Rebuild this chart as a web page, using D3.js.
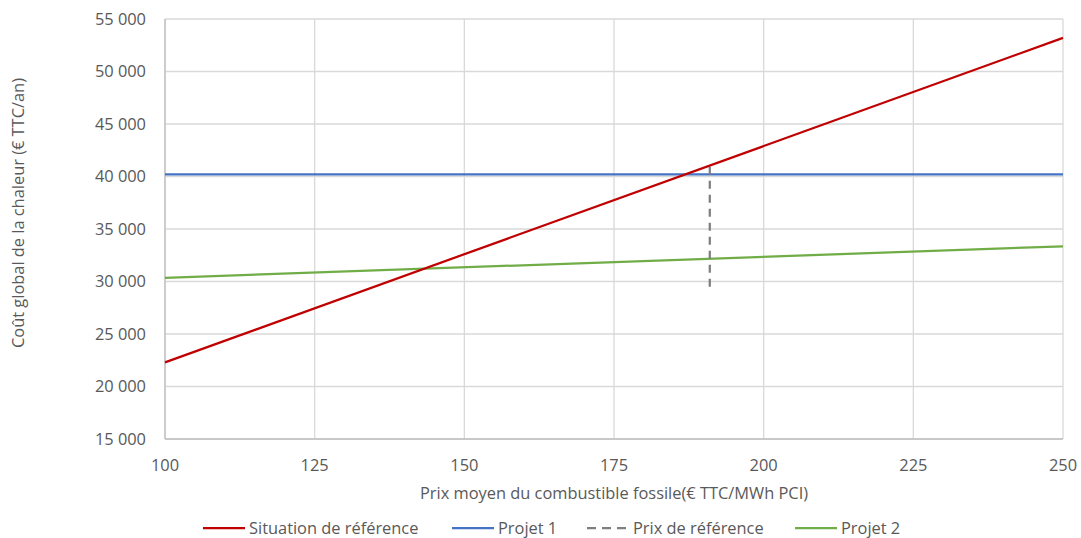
<!DOCTYPE html>
<html><head><meta charset="utf-8">
<script src="https://cdn.jsdelivr.net/npm/d3@7"></script>
<style>
body{margin:0;background:#fff;}
text{font-family:"Open Sans",sans-serif;fill:#595959;}
</style></head>
<body><svg id="c" width="1081" height="538"></svg>
<script>
const xTicks = [100,125,150,175,200,225,250];
const yTicks = [15000,20000,25000,30000,35000,40000,45000,50000,55000];
const prices = [100,250];
const situationRef = [22300,53200];
const projet1 = [40200,40200];
const projet2 = [30350,33350];
const prixRefX = [191,191];
const prixRefY = [29500,41050];
const seriesNames = ["Situation de référence","Projet 1","Prix de référence","Projet 2"];
const colors = ["#C00000","#4472C4","#7F7F7F","#70AD47"];

const svg = d3.select("#c");
const L=165,R=1063,T=19,B=439;
const FS=16.4;
const x = d3.scaleLinear().domain([100,250]).range([L,R]);
const y = d3.scaleLinear().domain([15000,55000]).range([B,T]);

// grid
svg.append("g").selectAll("line").data(yTicks).join("line")
 .attr("x1",L).attr("x2",R).attr("y1",d=>y(d)).attr("y2",d=>y(d))
 .attr("stroke","#d9d9d9").attr("stroke-width",1.3);
svg.append("g").selectAll("line").data(xTicks).join("line")
 .attr("y1",T).attr("y2",B).attr("x1",d=>x(d)).attr("x2",d=>x(d))
 .attr("stroke","#d9d9d9").attr("stroke-width",1.3);
svg.append("line").attr("x1",L).attr("x2",L).attr("y1",T).attr("y2",B).attr("stroke","#bfbfbf").attr("stroke-width",1.3);
svg.append("line").attr("x1",L).attr("x2",R).attr("y1",B).attr("y2",B).attr("stroke","#bfbfbf").attr("stroke-width",1.3);

// tick labels
svg.append("g").selectAll("text").data(yTicks).join("text")
 .attr("x",146).attr("y",d=>y(d)).attr("dy","0.35em").attr("text-anchor","end")
 .attr("font-size",FS).text(d=>d3.format(",")(d).replace(/,/g," "));
svg.append("g").selectAll("text").data(xTicks).join("text")
 .attr("x",d=>x(d)).attr("y",465).attr("dy","0.35em").attr("text-anchor","middle")
 .attr("font-size",FS).text(d=>d);

// titles
svg.append("text").attr("x",614).attr("y",493).attr("dy","0.35em").attr("text-anchor","middle")
 .attr("font-size",FS).text("Prix moyen du combustible fossile(€ TTC/MWh PCI)");
svg.append("text").attr("transform","translate(18,213) rotate(-90)").attr("dy","0.35em").attr("text-anchor","middle")
 .attr("font-size",FS).text("Coût global de la chaleur (€ TTC/an)");

const line = d3.line().x(d=>x(d[0])).y(d=>y(d[1]));
const mk = (xs,ys)=>xs.map((v,i)=>[v,ys[i]]);
svg.append("path").datum(mk(prices,projet2)).attr("d",line).attr("fill","none").attr("stroke",colors[3]).attr("stroke-width",2.25);
svg.append("path").datum(mk(prices,projet1)).attr("d",line).attr("fill","none").attr("stroke",colors[1]).attr("stroke-width",2.25);
svg.append("path").datum(mk(prixRefX,prixRefY)).attr("d",line).attr("fill","none").attr("stroke",colors[2]).attr("stroke-width",2.25).attr("stroke-dasharray","8,6");
svg.append("path").datum(mk(prices,situationRef)).attr("d",line).attr("fill","none").attr("stroke",colors[0]).attr("stroke-width",2.25);

// legend
const lx=[203,452,587,795];
const lg = svg.append("g").selectAll("g").data(seriesNames).join("g").attr("transform",(d,i)=>`translate(${lx[i]},528)`);
lg.append("line").attr("x1",0).attr("x2",42).attr("stroke",(d,i)=>colors[i]).attr("stroke-width",2.25)
 .attr("stroke-dasharray",(d,i)=>i===2?"9,6":null);
lg.append("text").attr("x",46).attr("dy","0.35em").attr("font-size",FS).text(d=>d);
</script></body></html>
